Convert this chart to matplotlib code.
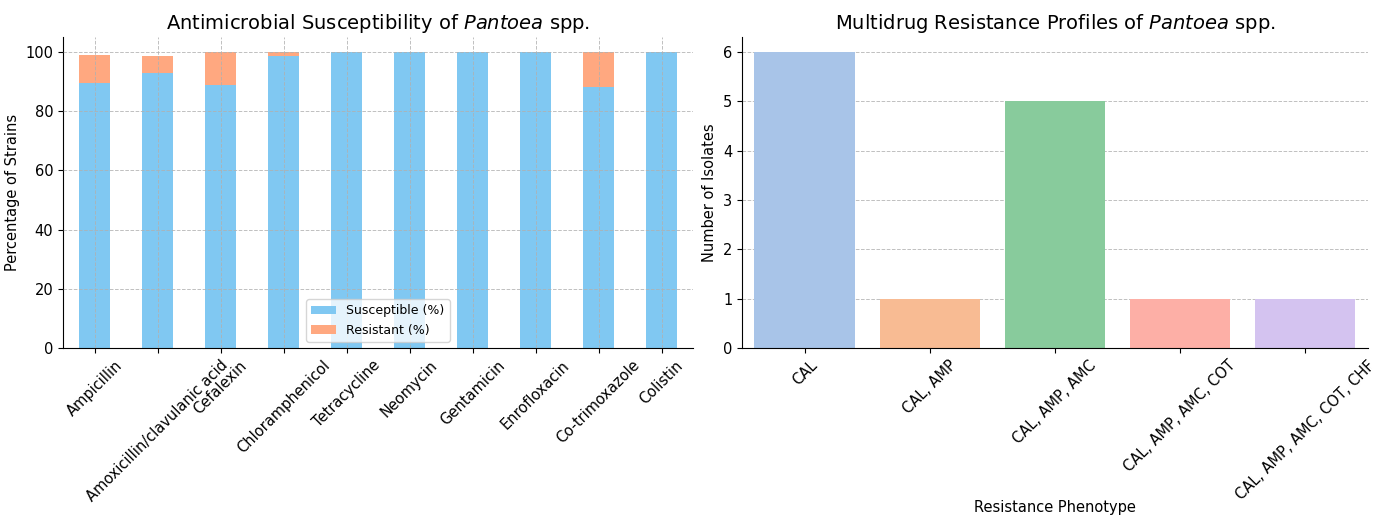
import numpy as np
import matplotlib
matplotlib.use("Agg")
import matplotlib.pyplot as plt
import seaborn as sns

# antimicrobial susceptibility (%)
antibiotics = ["Ampicillin", "Amoxicillin/clavulanic acid", "Cefalexin", "Chloramphenicol",
               "Tetracycline", "Neomycin", "Gentamicin", "Enrofloxacin", "Co-trimoxazole", "Colistin"]
susceptible = [89.3, 92.7, 88.8, 98.6, 100, 100, 100, 100, 88.1, 100]
resistant = [9.7, 5.8, 11.2, 1.4, 0, 0, 0, 0, 11.9, 0]

# multidrug resistance profiles
phenotypes = ["CAL", "CAL, AMP", "CAL, AMP, AMC", "CAL, AMP, AMC, COT", "CAL, AMP, AMC, COT, CHF"]
isolates = [6, 1, 5, 1, 1]
bar_colors = ['#A8C4E8', '#F8BB93', '#88CB9C', '#FDAFA6', '#D4C3F0']

plt.rcParams['font.family'] = ['DejaVu Sans']

fig = plt.figure(figsize=(13.74, 5.15), dpi=100)
ax1 = fig.add_axes([0.0459, 0.3243, 0.4585, 0.6039])
ax2 = fig.add_axes([0.540, 0.3243, 0.4556, 0.6039])

x = np.arange(len(antibiotics))
ax1.bar(x, susceptible, width=0.5, color='#80C8F2', label='Susceptible (%)')
ax1.bar(x, resistant, width=0.5, bottom=susceptible, color='#FFA880', label='Resistant (%)')
ax1.set_xlim(-0.5, len(antibiotics) - 0.5)
ax1.set_ylim(0, 105)
ax1.set_xticks(x)
ax1.set_xticklabels(antibiotics, rotation=45, ha='center', fontsize=10.5)
ax1.tick_params(axis='y', labelsize=10.5)
ax1.set_ylabel('Percentage of Strains', fontsize=10.5)
ax1.set_title(r'Antimicrobial Susceptibility of $\it{Pantoea}$ spp.', fontsize=14)
ax1.grid(True, linestyle='--', color='#b0b0b0', linewidth=0.7, alpha=0.8)
ax1.set_axisbelow(False)
ax1.legend(loc='lower center', fontsize=9, framealpha=0.8)

sns.barplot(x=phenotypes, y=isolates, hue=phenotypes, palette=bar_colors, saturation=1,
            legend=False, ax=ax2)
ax2.set_xlim(-0.5, len(phenotypes) - 0.5)
ax2.set_ylim(0, 6.3)
ax2.set_xticks(range(len(phenotypes)))
ax2.set_xticklabels(phenotypes, rotation=45, ha='center', fontsize=10.5)
ax2.tick_params(axis='y', labelsize=10.5)
ax2.set_ylabel('Number of Isolates', fontsize=10.5)
ax2.set_xlabel('Resistance Phenotype', fontsize=10.5)
ax2.xaxis.set_label_coords(0.5, -0.488)
ax2.set_title(r'Multidrug Resistance Profiles of $\it{Pantoea}$ spp.', fontsize=14)
ax2.grid(True, axis='y', linestyle='--', color='#b0b0b0', linewidth=0.7, alpha=0.8)
ax2.set_axisbelow(True)

for ax in (ax1, ax2):
    ax.spines['top'].set_visible(False)
    ax.spines['right'].set_visible(False)

fig.savefig('out.png', dpi=100)
